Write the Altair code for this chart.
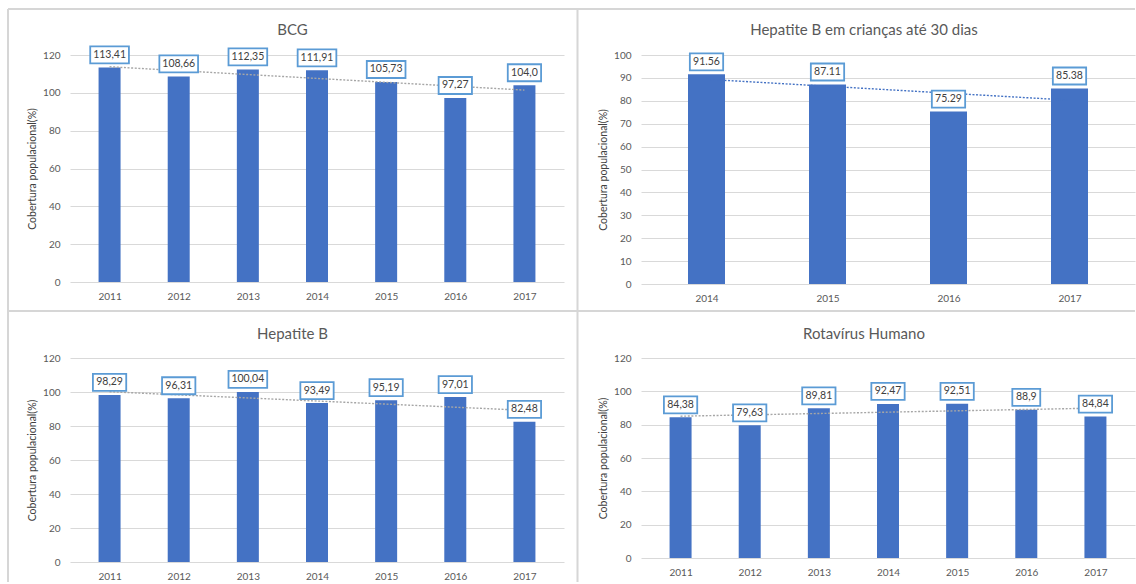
import altair as alt
import pandas as pd

# Vaccination coverage by year (%), four vaccines
years_long = [2011, 2012, 2013, 2014, 2015, 2016, 2017]
years_short = [2014, 2015, 2016, 2017]

bcg_values = [113.41, 108.66, 112.35, 111.91, 105.73, 97.27, 104.0]
bcg_labels = ["113,41", "108,66", "112,35", "111,91", "105,73", "97,27", "104,0"]

hepb30_values = [91.56, 87.11, 75.29, 85.38]
hepb30_labels = ["91.56", "87.11", "75.29", "85.38"]

hepb_values = [98.29, 96.31, 100.04, 93.49, 95.19, 97.01, 82.48]
hepb_labels = ["98,29", "96,31", "100,04", "93,49", "95,19", "97,01", "82,48"]

rota_values = [84.38, 79.63, 89.81, 92.47, 92.51, 88.9, 84.84]
rota_labels = ["84,38", "79,63", "89,81", "92,47", "92,51", "88,9", "84,84"]

titles = ["BCG", "Hepatite B em crianças até 30 dias", "Hepatite B", "Rotavírus Humano"]
y_title = "Cobertura populacional(%)"

FONT = "Lato"
BAR = "#4472C4"
BOX = "#5B9BD5"
GRID = "#D9D9D9"
TXT = "#595959"
FRAME = "#D6D6D6"
PLOT_W = 494


def panel(title, years, values, labels, ymax, ystep, height, bar_width,
          trend_color, title_x, title_y, extra_layers=()):
    n = len(years)
    px_per_year = PLOT_W / n
    df = pd.DataFrame({"year": years, "value": values, "label": labels})
    x_scale = alt.Scale(domain=[years[0] - 0.5, years[-1] + 0.5], nice=False, zero=False)
    y_scale = alt.Scale(domain=[0, ymax], nice=False)
    x_axis = alt.Axis(values=years, tickCount=50, format="d", title=None, ticks=False,
                      domain=False, grid=False, labelPadding=9, labelFontSize=10,
                      labelColor=TXT, labelFont=FONT, labelOverlap=False)
    y_axis = alt.Axis(values=list(range(0, ymax + 1, ystep)), tickCount=50, title=y_title,
                      ticks=False, domain=False, grid=True, gridColor=GRID,
                      gridWidth=1, labelPadding=10, labelFontSize=10,
                      labelColor=TXT, labelFont=FONT, labelOverlap=False,
                      titleX=-37.5, titleY=height / 2, titleAngle=270,
                      titleAlign="center", titleBaseline="middle",
                      titleFontSize=10.5, titleColor="#404040",
                      titleFontWeight="normal", titleFont=FONT)

    base = alt.Chart(df)
    bars = base.mark_bar(color=BAR, width=bar_width).encode(
        x=alt.X("year:Q", scale=x_scale, axis=x_axis),
        y=alt.Y("value:Q", scale=y_scale, axis=y_axis),
    )
    trend = base.transform_regression("year", "value").mark_line(
        color=trend_color, strokeDash=[2, 1.6], strokeWidth=1.4
    ).encode(x=alt.X("year:Q"), y=alt.Y("value:Q"))
    boxes = base.transform_calculate(
        half=f"(5.5 * length(datum.label) + 6.5) / 2 / {px_per_year}"
    ).transform_calculate(
        bx1="datum.year - datum.half", bx2="datum.year + datum.half"
    ).mark_rect(
        fill="white", stroke=BOX, strokeWidth=1.8, yOffset=-21, y2Offset=-4
    ).encode(
        x=alt.X("bx1:Q"), x2="bx2:Q", y=alt.Y("value:Q"), y2="value:Q"
    )
    labels_layer = base.mark_text(
        yOffset=-12.5, baseline="middle", align="center", fontSize=10.5,
        color="#404040", font=FONT
    ).encode(x=alt.X("year:Q"), y=alt.Y("value:Q"), text="label:N")
    title_layer = alt.Chart(pd.DataFrame({"t": [title]})).mark_text(
        fontSize=15, color=TXT, font=FONT, baseline="middle", align="center"
    ).encode(text="t:N", x=alt.value(title_x), y=alt.value(title_y))

    return alt.layer(*extra_layers, bars, trend, boxes, labels_layer, title_layer).properties(
        width=PLOT_W, height=height
    )


# Light grey frames around the four panels (drawn from the first panel)
one = pd.DataFrame({"k": [0]})
frame_rule = alt.Chart(one).mark_rule(color=FRAME, strokeWidth=2)
frames = [
    frame_rule.encode(x=alt.value(-62), x2=alt.value(1065), y=alt.value(-46)),
    frame_rule.encode(x=alt.value(-62), x2=alt.value(1065), y=alt.value(256)),
    frame_rule.encode(x=alt.value(-62), y=alt.value(-46), y2=alt.value(527)),
    frame_rule.encode(x=alt.value(507.5), y=alt.value(-46), y2=alt.value(527)),
]

bcg = panel(titles[0], years_long, bcg_values, bcg_labels, 120, 20, 227, 22,
            "#A6A6A6", 222.5, -25, extra_layers=frames)
hepb30 = panel(titles[1], years_short, hepb30_values, hepb30_labels, 100, 10, 229, 37,
               BAR, 223, -25)
hepb = panel(titles[2], years_long, hepb_values, hepb_labels, 120, 20, 204, 22,
             "#A6A6A6", 222.5, -24)
rota = panel(titles[3], years_long, rota_values, rota_labels, 120, 20, 200, 22,
             "#A6A6A6", 223, -24)

chart = alt.concat(
    bcg, hepb30, hepb, rota,
    columns=2,
    spacing={"row": 74, "column": 77},
    bounds="flush",
    align="each",
).properties(
    padding={"left": 7, "top": 8, "right": 0, "bottom": 0},
    background="white",
).configure_view(stroke=None)

chart.save("out.html", embed_options={"renderer": "svg", "actions": False})
